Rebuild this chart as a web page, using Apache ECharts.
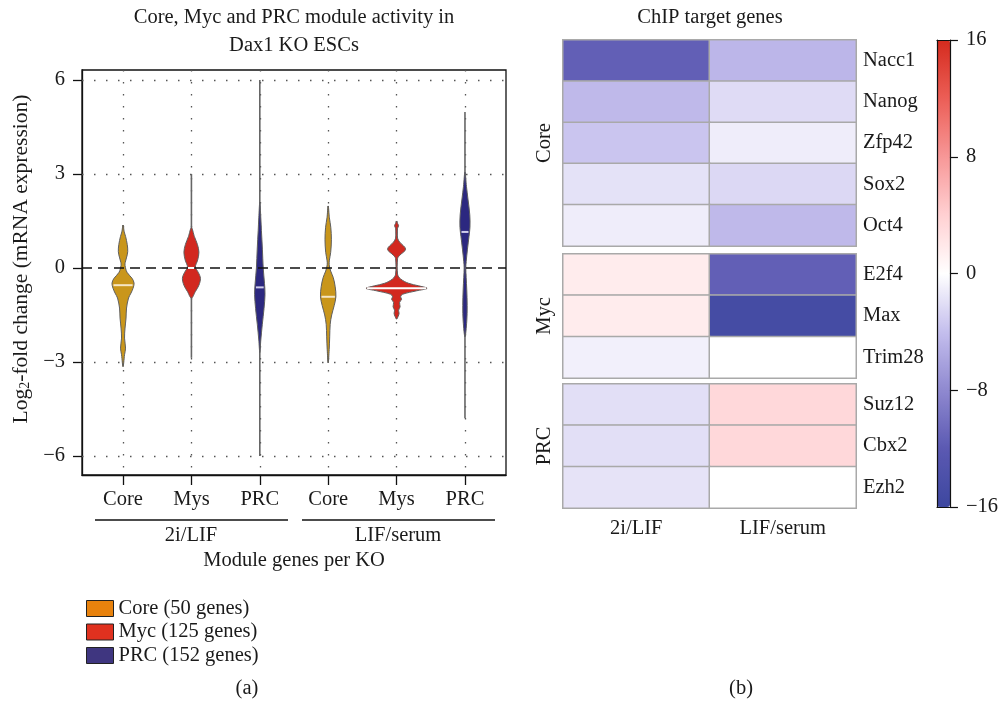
<!DOCTYPE html>
<html>
<head>
<meta charset="utf-8">
<script src="https://cdn.jsdelivr.net/npm/echarts@6/dist/echarts.min.js"></script>
<style>
  html, body { margin: 0; padding: 0; background: #ffffff; }
  #chart { width: 1001px; height: 703px; }
</style>
</head>
<body>
<div id="chart"></div>
<script>
// ---------- Panel (a): violin plots of module activity ----------
const FONT = '"Liberation Serif", "DejaVu Serif", serif';
const MODULE_TICKS = ['Core', 'Mys', 'PRC', 'Core', 'Mys', 'PRC'];
const CONDITIONS = ['2i/LIF', 'LIF/serum'];
const Y_TICKS = [-6, -3, 0, 3, 6];
const Y_GRID = [-6, -3, 3, 6];
const LEGEND_NAMES = ['Core (50 genes)', 'Myc (125 genes)', 'PRC (152 genes)'];

// Violin outlines: [log2 fold change, relative density]
const CORE_2I_PROFILE = [[1.37, 0], [1.15, 1.2], [1.0, 2.6], [0.75, 4.2], [0.52, 4.7], [0.32, 3.4], [0.18, 2.2], [0.08, 2], [-0.14, 4], [-0.33, 9], [-0.48, 11], [-0.65, 10], [-0.8, 8], [-0.96, 5.5], [-1.28, 3.5], [-1.6, 3], [-1.92, 2], [-2.24, 1.5], [-2.56, 2.5], [-2.77, 1.5], [-3.15, 0]];
const MYC_2I_PROFILE = [[1.28, 0], [1.0, 3], [0.75, 6], [0.5, 7.5], [0.25, 6.2], [0.03, 4], [-0.15, 7], [-0.33, 9], [-0.55, 7.5], [-0.75, 4], [-0.96, 0]];
const PRC_2I_PROFILE = [[2.1, 0], [1.6, 1], [1.2, 1.6], [0.6, 2.6], [0.0, 3.4], [-0.5, 4.7], [-0.85, 5.2], [-1.3, 4.2], [-1.8, 2.5], [-2.3, 1], [-2.7, 0]];
const CORE_LS_PROFILE = [[1.98, 0], [1.6, 1.2], [1.3, 2.6], [0.9, 3.2], [0.5, 2.5], [0.25, 1.2], [0.1, 1], [-0.1, 2.5], [-0.3, 5], [-0.6, 7], [-0.92, 7.7], [-1.2, 6], [-1.5, 3.5], [-1.8, 2], [-2.2, 1.5], [-2.6, 1], [-3.03, 0]];
const MYC_LS_PROFILE = [[1.5, 0], [1.42, 1], [1.35, 2], [1.27, 1], [1.15, 0.8], [0.95, 1], [0.83, 3], [0.6, 9], [0.4, 3], [0.3, 1], [-0.2, 1], [-0.35, 4], [-0.49, 12], [-0.57, 22], [-0.65, 30.5], [-0.73, 20], [-0.84, 6], [-0.92, 4], [-1.0, 5], [-1.1, 3], [-1.24, 3.5], [-1.35, 2], [-1.45, 2.5], [-1.55, 1.5], [-1.63, 0]];
const PRC_LS_PROFILE = [[3.06, 0], [2.6, 1.5], [2.2, 3], [1.7, 4.8], [1.3, 5], [1.0, 4], [0.6, 2.5], [0.2, 1.2], [0.0, 0.8], [-0.3, 1.2], [-0.7, 1.8], [-1.2, 2.2], [-1.7, 1.8], [-2.2, 0]];

// Whisker extent [min, max] and median for each violin
const CORE_RANGE = [[-3.15, 1.37], [-3.03, 1.98]];
const MYC_RANGE = [[-2.87, 3.0], [-1.63, 1.5]];
const PRC_RANGE = [[-6.0, 6.0], [-4.8, 4.98]];
const CORE_MEDIAN = [-0.55, -0.92];
const MYC_MEDIAN = [0.0, -0.65];
const PRC_MEDIAN = [-0.62, 1.15];
// Position of each violin along the module axis
const CORE_POS = [1, 4];
const MYC_POS = [2, 5];
const PRC_POS = [3, 6];

// ---------- Panel (b): ChIP target gene heatmap ----------
const CORE_GENES = ['Nacc1', 'Nanog', 'Zfp42', 'Sox2', 'Oct4'];
const MYC_GENES = ['E2f4', 'Max', 'Trim28'];
const PRC_GENES = ['Suz12', 'Cbx2', 'Ezh2'];
// values per gene: [2i/LIF, LIF/serum]
const CORE_VALUES = [[-11.5, -4.6], [-4.4, -2.2], [-3.6, -1.1], [-1.8, -2.4], [-1.1, -4.4]];
const MYC_VALUES = [[1.6, -11.5], [1.6, -15], [-0.9, 0]];
const PRC_VALUES = [[-2.0, 3.3], [-2.0, 3.3], [-1.7, 0]];
const COLORBAR_TICKS = [-16, -8, 0, 8, 16];

const VIOLIN_SCALE = 0.01462; // module-axis units per density unit
const FS = 20.5;
const FONT_CSS = FS + 'px ' + FONT;

function minusSign(v) { return v < 0 ? '\u2212' + Math.abs(v) : String(v); }

function violinRenderer(profiles, fill, medianColor) {
  return function (params, api) {
    const idx = params.dataIndex;
    const x = api.value(0);
    const prof = profiles[idx];
    const right = prof.map(p => api.coord([x + p[1] * VIOLIN_SCALE, p[0]]));
    const left = prof.slice(1, -1).reverse().map(p => api.coord([x - p[1] * VIOLIN_SCALE, p[0]]));
    const top = api.coord([x, api.value(2)]);
    const bottom = api.coord([x, api.value(1)]);
    const med = api.value(3);
    // density at the median
    let dm = 0;
    for (let k = 0; k < prof.length - 1; k++) {
      const a = prof[k], b = prof[k + 1];
      if (med <= a[0] && med >= b[0]) {
        const t = (a[0] - med) / (a[0] - b[0] || 1);
        dm = a[1] + t * (b[1] - a[1]);
        break;
      }
    }
    const mL = api.coord([x - dm * VIOLIN_SCALE, med]);
    const mR = api.coord([x + dm * VIOLIN_SCALE, med]);
    return {
      type: 'group',
      children: [
        { type: 'line', shape: { x1: top[0], y1: top[1], x2: bottom[0], y2: bottom[1] },
          style: { stroke: '#666666', lineWidth: 1.6 } },
        { type: 'polygon', shape: { points: right.concat(left), smooth: 0.35 },
          style: { fill: fill, stroke: '#5f5f5f', lineWidth: 1 } },
        { type: 'line', shape: { x1: mL[0] + 1, y1: mL[1], x2: mR[0] - 1, y2: mR[1] },
          style: { stroke: medianColor, lineWidth: 2 } }
      ]
    };
  };
}

function violinData(pos, range, median) {
  return pos.map((p, i) => [p, range[i][0], range[i][1], median[i]]);
}

const chart = echarts.init(document.getElementById('chart'), null, { renderer: 'canvas' });

const textBase = { fontFamily: FONT, fontSize: FS, color: '#1a1a1a' };
const heatGrids = [
  { left: 563, top: 40, width: 293, height: 206 },
  { left: 563, top: 254, width: 293, height: 124 },
  { left: 563, top: 384, width: 293, height: 124 }
];
const heatGenes = [CORE_GENES, MYC_GENES, PRC_GENES];
const heatValues = [CORE_VALUES, MYC_VALUES, PRC_VALUES];

function label(text, x, y, extra) {
  return Object.assign({ type: 'text', x: x, y: y,
    style: { text: text, font: FONT_CSS, fill: '#1a1a1a', align: 'center', verticalAlign: 'middle' } }, extra || {});
}

const option = {
  backgroundColor: '#ffffff',
  animation: false,
  textStyle: { fontFamily: FONT },
  grid: [
    { left: 82, top: 70, width: 424, height: 405, show: true, borderColor: '#111', borderWidth: 1.3, backgroundColor: 'transparent' },
    heatGrids[0], heatGrids[1], heatGrids[2],
    { left: 937, top: 40, width: 13, height: 467 }
  ],
  xAxis: [
    { gridIndex: 0, type: 'value', min: 0.4, max: 6.6,
      axisLine: { show: true, onZero: false, lineStyle: { color: '#111', width: 1.3 } },
      axisTick: { show: true, length: 10, customValues: [1, 2, 3, 4, 5, 6], lineStyle: { color: '#111', width: 1.3 } },
      axisLabel: { customValues: [1, 2, 3, 4, 5, 6], margin: 14, formatter: v => MODULE_TICKS[Math.round(v) - 1] || '', ...textBase },
      splitLine: { show: true, lineStyle: { color: '#555', width: 1.3, type: [1.5, 10.5] } } },
    { gridIndex: 1, type: 'category', data: CONDITIONS, show: false },
    { gridIndex: 2, type: 'category', data: CONDITIONS, show: false },
    { gridIndex: 3, type: 'category', data: CONDITIONS, position: 'bottom',
      axisLine: { show: false }, axisTick: { show: false },
      axisLabel: { margin: 10, ...textBase } },
    { gridIndex: 4, type: 'value', min: 0, max: 1, z: 10,
      axisLine: { show: true, onZero: false, lineStyle: { color: '#111', width: 1.2 } },
      axisTick: { show: false }, axisLabel: { show: false }, splitLine: { show: false } },
    { gridIndex: 4, type: 'value', min: 0, max: 1, position: 'top', z: 10,
      axisLine: { show: true, onZero: false, lineStyle: { color: '#111', width: 1.2 } },
      axisTick: { show: false }, axisLabel: { show: false }, splitLine: { show: false } }
  ],
  yAxis: [
    { gridIndex: 0, type: 'value', min: -6.61, max: 6.32,
      axisLine: { show: true, onZero: false, lineStyle: { color: '#111', width: 1.3 } },
      axisTick: { show: true, length: 9, customValues: Y_TICKS, lineStyle: { color: '#111', width: 1.3 } },
      axisLabel: { customValues: Y_TICKS, margin: 17, formatter: minusSign, ...textBase },
      splitLine: { show: false } },
    ...heatGenes.map((genes, i) => ({
      gridIndex: i + 1, type: 'category', data: genes, inverse: true, position: 'right',
      axisLine: { show: false }, axisTick: { show: false }, splitLine: { show: false },
      axisLabel: { margin: 7, ...textBase }
    })),
    { gridIndex: 4, type: 'value', min: -16, max: 16, position: 'right', z: 10,
      axisLine: { show: true, onZero: false, lineStyle: { color: '#111', width: 1.2 } },
      axisTick: { show: true, inside: false, length: 8, customValues: COLORBAR_TICKS, lineStyle: { color: '#111', width: 1.2 } },
      axisLabel: { margin: 16, customValues: COLORBAR_TICKS, formatter: minusSign, ...textBase },
      splitLine: { show: false } },
    { gridIndex: 4, type: 'value', min: -16, max: 16, position: 'left', z: 10,
      axisLine: { show: true, onZero: false, lineStyle: { color: '#111', width: 1.2 } },
      axisTick: { show: false }, axisLabel: { show: false }, splitLine: { show: false } }
  ],
  visualMap: {
    type: 'continuous', min: -16, max: 16, orient: 'vertical',
    left: 937, top: 40, itemWidth: 13, itemHeight: 467, padding: 0,
    calculable: false, text: null, showLabel: false, z: 2,
    seriesIndex: [3, 4, 5],
    inRange: { color: ['#3d479f', '#5b59b2', '#8f89d0', '#c4beed', '#ffffff', '#ffd0d2', '#f79797', '#ec5e56', '#d42b1e'] }
  },
  legend: {
    orient: 'vertical', left: 81, top: 593, itemWidth: 27, itemHeight: 16, itemGap: 2.5,
    icon: 'rect', textStyle: { ...textBase }, selectedMode: false,
    data: [
      { name: LEGEND_NAMES[0], itemStyle: { color: '#e8820d', borderColor: '#222', borderWidth: 1 } },
      { name: LEGEND_NAMES[1], itemStyle: { color: '#e0311f', borderColor: '#222', borderWidth: 1 } },
      { name: LEGEND_NAMES[2], itemStyle: { color: '#3f3680', borderColor: '#222', borderWidth: 1 } }
    ]
  },
  series: [
    { name: LEGEND_NAMES[0], type: 'custom', xAxisIndex: 0, yAxisIndex: 0,
      renderItem: violinRenderer([CORE_2I_PROFILE, CORE_LS_PROFILE], '#c9961b', '#f5e6c4'),
      encode: { x: 0, y: [1, 2] }, data: violinData(CORE_POS, CORE_RANGE, CORE_MEDIAN), z: 3,
      markLine: { silent: true, symbol: 'none', label: { show: false }, z: 1,
        lineStyle: { color: '#555', width: 1.3, type: [1.5, 10.5] },
        data: Y_GRID.map(v => ({ yAxis: v })) } },
    { name: LEGEND_NAMES[1], type: 'custom', xAxisIndex: 0, yAxisIndex: 0,
      renderItem: violinRenderer([MYC_2I_PROFILE, MYC_LS_PROFILE], '#d2281f', '#ffffff'),
      encode: { x: 0, y: [1, 2] }, data: violinData(MYC_POS, MYC_RANGE, MYC_MEDIAN), z: 3,
      markLine: { silent: true, symbol: 'none', label: { show: false },
        lineStyle: { color: '#111', width: 1.6, type: [10, 6] }, data: [{ yAxis: 0 }] } },
    { name: LEGEND_NAMES[2], type: 'custom', xAxisIndex: 0, yAxisIndex: 0,
      renderItem: violinRenderer([PRC_2I_PROFILE, PRC_LS_PROFILE], '#2c2880', '#d0cdeb'),
      encode: { x: 0, y: [1, 2] }, data: violinData(PRC_POS, PRC_RANGE, PRC_MEDIAN), z: 3 },
    ...heatValues.map((vals, g) => ({
      type: 'heatmap', xAxisIndex: g + 1, yAxisIndex: g + 1,
      data: vals.flatMap((row, r) => row.map((v, c) => [c, r, v])),
      itemStyle: { borderColor: '#a9a9a9', borderWidth: 1.5 },
      emphasis: { disabled: true }
    }))
  ],
  graphic: [
    label('Core, Myc and PRC module activity in', 294, 18),
    label('Dax1 KO ESCs', 294, 46),
    { type: 'text', x: 21, y: 259, rotation: Math.PI / 2,
      style: { text: '{t|Log}{s|2}{t|-fold change (mRNA expression)}', align: 'center', verticalAlign: 'middle',
        rich: { t: { font: '21.5px ' + FONT, fill: '#1a1a1a' }, s: { font: '14px ' + FONT, fill: '#1a1a1a', padding: [8, 0, 0, 0] } } } },
    { type: 'line', shape: { x1: 95, y1: 520, x2: 288, y2: 520 }, style: { stroke: '#111', lineWidth: 1.3 } },
    { type: 'line', shape: { x1: 302, y1: 520, x2: 495, y2: 520 }, style: { stroke: '#111', lineWidth: 1.3 } },
    label(CONDITIONS[0], 191, 536),
    label(CONDITIONS[1], 398, 536),
    label('Module genes per KO', 294, 561),
    label('(a)', 247, 689),
    label('(b)', 741, 689),
    label('ChIP target genes', 710, 18),
    label('Core', 545, 143, { rotation: Math.PI / 2 }),
    label('Myc', 545, 316, { rotation: Math.PI / 2 }),
    label('PRC', 545, 446, { rotation: Math.PI / 2 })
  ]
};

chart.setOption(option);
</script>
</body>
</html>
